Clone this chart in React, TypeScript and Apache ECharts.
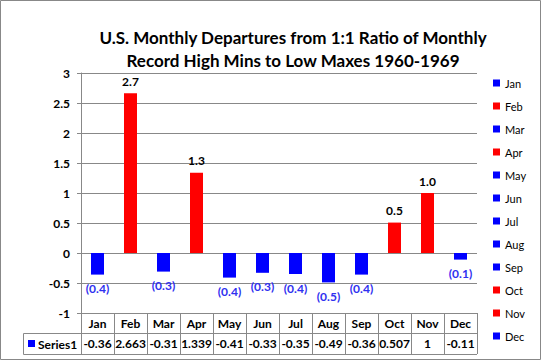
import React, { useEffect, useRef } from "react";
import * as echarts from "echarts";

const months = ["Jan", "Feb", "Mar", "Apr", "May", "Jun", "Jul", "Aug", "Sep", "Oct", "Nov", "Dec"];
const values = [-0.36, 2.663, -0.31, 1.339, -0.41, -0.33, -0.35, -0.49, -0.36, 0.507, 1, -0.11];
const tableLabels = ["-0.36", "2.663", "-0.31", "1.339", "-0.41", "-0.33", "-0.35", "-0.49", "-0.36", "0.507", "1", "-0.11"];
const titleLines = ["U.S. Monthly Departures from 1:1 Ratio of Monthly", "Record High Mins to Low Maxes 1960-1969"];
const seriesName = "Series1";

const FONT = "Lato, 'Liberation Sans', sans-serif";
const POS = "#FF0000";
const NEG = "#0000FF";
const NEG_LABEL = "#3030F0";
const LINE = "#888888";

const fmt = (v: number) => {
  const r = (Math.round(Math.abs(v) * 10 + 1e-9) / 10).toFixed(1);
  return v < 0 ? `(${r})` : r;
};

export default function App() {
  const ref = useRef<HTMLDivElement>(null);
  useEffect(() => {
    document.body.style.margin = "0";
    const chart = echarts.init(ref.current!, null, { renderer: "svg" });
    const gridLeft = 81;
    const gridRight = 477;
    const gridBottomY = 313;
    const series = months.map((m, i) => {
      const v = values[i];
      return {
        name: m,
        type: "bar",
        stack: "all",
        barWidth: 13,
        itemStyle: { color: v >= 0 ? POS : NEG },
        label: {
          show: true,
          position: v >= 0 ? "top" : "bottom",
          distance: v >= 0 ? 6 : 8,
          formatter: () => fmt(v),
          fontFamily: FONT,
          fontSize: 12,
          fontWeight: "bold",
          color: v >= 0 ? "#000" : NEG_LABEL,
        },
        data: values.map((x, j) => (j === i ? x : "-")),
      };
    });
    chart.setOption({
      animation: false,
      backgroundColor: "#fff",
      title: {
        text: titleLines.join("\n"),
        left: 288,
        top: 21,
        textAlign: "center",
        textStyle: { fontFamily: FONT, fontSize: 17, fontWeight: "bold", color: "#000", lineHeight: 23 },
      },
      legend: {
        orient: "vertical",
        left: 488,
        top: 72,
        icon: "rect",
        itemWidth: 7,
        itemHeight: 7,
        itemGap: 11,
        data: months,
        textStyle: { fontFamily: FONT, fontSize: 11, lineHeight: 12, color: "#000" },
      },
      grid: { left: gridLeft, right: 542 - gridRight, top: 73, bottom: 360 - gridBottomY },
      xAxis: {
        type: "category",
        data: months,
        axisLine: { show: true, onZero: false, lineStyle: { color: LINE } },
        axisTick: { show: true, interval: 0, length: 41, lineStyle: { color: LINE } },
        axisLabel: {
          interval: 0,
          margin: 0,
          formatter: (_: string, idx: number) => `{m|${months[idx]}}\n{v|${tableLabels[idx]}}`,
          rich: {
            m: { fontFamily: FONT, fontSize: 12, fontWeight: "bold", color: "#000", lineHeight: 20.5 },
            v: { fontFamily: FONT, fontSize: 12, fontWeight: "bold", color: "#000", lineHeight: 20.5 },
          },
        },
      },
      yAxis: {
        type: "value",
        min: -1,
        max: 3,
        interval: 0.5,
        axisLine: { show: true, lineStyle: { color: LINE } },
        axisTick: { show: true, length: 4, lineStyle: { color: LINE } },
        splitLine: { show: true, lineStyle: { color: LINE } },
        axisLabel: { margin: 11, fontFamily: FONT, fontSize: 12, fontWeight: "bold", color: "#000" },
      },
      graphic: [
        { type: "rect", shape: { x: 0.5, y: 0.5, width: 540, height: 359 }, style: { fill: "none", stroke: LINE, lineWidth: 1 }, silent: true },
        { type: "line", shape: { x1: 23.5, y1: 333.5, x2: gridRight, y2: 333.5 }, style: { stroke: LINE, lineWidth: 1 } },
        { type: "line", shape: { x1: 23.5, y1: 354.5, x2: gridRight, y2: 354.5 }, style: { stroke: LINE, lineWidth: 1 } },
        { type: "line", shape: { x1: 23.5, y1: 333.5, x2: 23.5, y2: 354.5 }, style: { stroke: LINE, lineWidth: 1 } },
        { type: "rect", shape: { x: 28, y: 340, width: 7, height: 7 }, style: { fill: NEG } },
        {
          type: "text",
          x: 38,
          y: 344,
          style: { text: seriesName, fontFamily: FONT, fontSize: 12, fontWeight: "bold", fill: "#000", textVerticalAlign: "middle" },
        },
      ],
      series,
    });
    return () => chart.dispose();
  }, []);
  return <div ref={ref} style={{ width: 542, height: 360 }} />;
}
